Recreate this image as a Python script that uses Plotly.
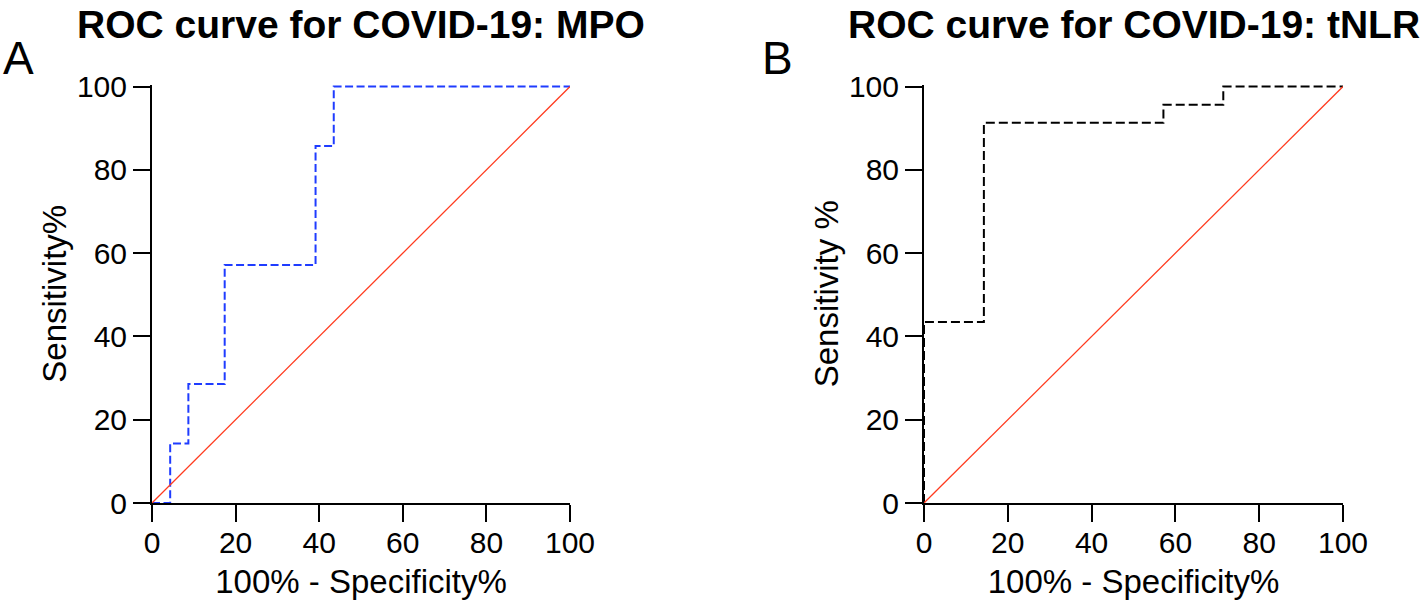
import plotly.graph_objects as go

# ROC data (100% - specificity %, sensitivity %)
mpo_fpr = [0, 4.35, 8.70, 17.39, 39.13, 43.48, 100]
mpo_sens = [0, 14.29, 28.57, 57.14, 85.71, 100, 100]

tnlr_fpr = [0, 0, 14.29, 57.14, 71.43, 100]
tnlr_sens = [0, 43.48, 91.30, 95.65, 100, 100]

# line of identity
ref_x = [0, 100]
ref_y = [0, 100]

tick_vals = [0, 20, 40, 60, 80, 100]
titles = ['ROC curve for COVID-19: MPO', 'ROC curve for COVID-19: tNLR']
y_titles = ['Sensitivity%', 'Sensitivity %']
panel_labels = ['A', 'B']

FONT = 'Liberation Sans, Arial, Helvetica, sans-serif'
RED = '#ff3b1f'

W, H = 1427, 603


def px(sx):
    return sx / W


def py(sy):
    return 1 - sy / H


fig = go.Figure()

fig.add_trace(go.Scatter(x=mpo_fpr, y=mpo_sens, mode='lines', line_shape='hv',
                         line=dict(color='#1f3cff', width=2, dash='8px,3.5px'),
                         xaxis='x', yaxis='y', showlegend=False))
fig.add_trace(go.Scatter(x=ref_x, y=ref_y, mode='lines',
                         line=dict(color=RED, width=1.3),
                         xaxis='x', yaxis='y', showlegend=False))

fig.add_trace(go.Scatter(x=tnlr_fpr, y=tnlr_sens, mode='lines', line_shape='hv',
                         line=dict(color='black', width=2, dash='9px,4px'),
                         xaxis='x2', yaxis='y2', showlegend=False))
fig.add_trace(go.Scatter(x=ref_x, y=ref_y, mode='lines',
                         line=dict(color=RED, width=1.3),
                         xaxis='x2', yaxis='y2', showlegend=False))

axis_common = dict(
    showline=True, linecolor='black', linewidth=2,
    ticks='outside', ticklen=17, tickwidth=2, tickcolor='black',
    tickvals=tick_vals, showgrid=False, zeroline=False, automargin=False,
    tickfont=dict(family=FONT, size=30, color='black'),
    title_font=dict(family=FONT, size=33, color='black'),
)

xdoms = [[px(152), px(570)], [px(924), px(1343)]]
ydom = [py(503), py(84.5)]

xt = dict(text='100% - Specificity%', standoff=12)

fig.update_layout(
    width=W, height=H,
    margin=dict(l=0, r=0, t=0, b=0),
    paper_bgcolor='white', plot_bgcolor='white',
    font=dict(family=FONT, color='black'),
    xaxis=dict(domain=xdoms[0], range=[0, 100], anchor='y', title=xt,
               ticklabelstandoff=-5, **axis_common),
    yaxis=dict(domain=ydom, range=[0, 100.5], anchor='x',
               title=dict(text=y_titles[0], standoff=0), **axis_common),
    xaxis2=dict(domain=xdoms[1], range=[0, 100], anchor='y2', title=xt,
                ticklabelstandoff=-5, **axis_common),
    yaxis2=dict(domain=ydom, range=[0, 100.5], anchor='x2',
                title=dict(text=y_titles[1], standoff=0), **axis_common),
)

for i in range(2):
    cx = (xdoms[i][0] + xdoms[i][1]) / 2
    fig.add_annotation(text='<b>' + titles[i] + '</b>', x=cx, y=py(24),
                       xref='paper', yref='paper', xanchor='center', yanchor='middle',
                       showarrow=False, font=dict(family=FONT, size=39, color='black'))

fig.add_annotation(text=panel_labels[0], x=px(1), y=py(58), xref='paper', yref='paper',
                   xanchor='left', yanchor='middle', showarrow=False,
                   font=dict(family=FONT, size=46, color='black'))
fig.add_annotation(text=panel_labels[1], x=px(760), y=py(58), xref='paper', yref='paper',
                   xanchor='left', yanchor='middle', showarrow=False,
                   font=dict(family=FONT, size=46, color='black'))

# drop the default 8px body margin so the figure fills the window exactly
fig.write_html('out.html', config={'displayModeBar': False},
               post_script="document.body.style.margin='0';")
